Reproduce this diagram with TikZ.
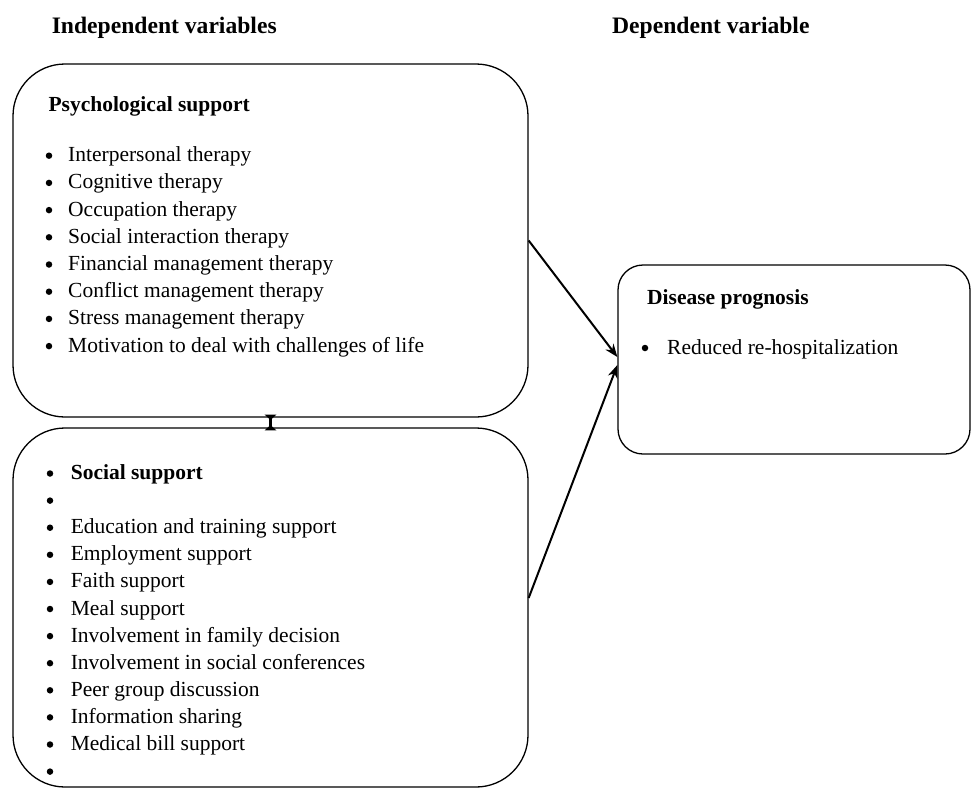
\documentclass[tikz,border=0pt]{standalone}
\usepackage{fontspec}
\setmainfont{Liberation Serif}
\usetikzlibrary{arrows.meta}
\begin{document}
\begin{tikzpicture}[x=1pt,y=-1pt,
  box/.style={draw, line width=1.3pt, rectangle, inner sep=0pt},
  txt/.style={anchor=base west, inner sep=0pt, font=\fontsize{21.5}{27}\selectfont},
  head/.style={anchor=base west, inner sep=0pt, font=\fontsize{21.5}{27}\selectfont\bfseries},
  title/.style={anchor=base west, inner sep=0pt, font=\fontsize{23.6}{28}\selectfont\bfseries},
  bul/.style={circle, fill, inner sep=0pt, minimum size=6.5pt, yshift=6pt},
  link/.style={line width=2pt, -{Stealth[length=13pt,width=10pt]}}]
\useasboundingbox (0,0) rectangle (971,790);

% titles
\node[title] (tind) at (51.6,33) {Independent variables};
\node[title] (tdep) at (612,33) {Dependent variable};

% boxes
\node[box, minimum width=515pt, minimum height=353pt, rounded corners=52pt] (psych) at (270.5,240.5) {};
\node[box, minimum width=515pt, minimum height=359pt, rounded corners=52pt] (social) at (270.5,607.5) {};
\node[box, minimum width=352pt, minimum height=189pt, rounded corners=25pt] (disease) at (794,359.5) {};

% psychological support
\node[head] (ph) at (48.3,111) {Psychological support};
\foreach \t [count=\i] in {Interpersonal therapy, Cognitive therapy, Occupation therapy,
  Social interaction therapy, Financial management therapy, Conflict management therapy,
  Stress management therapy, Motivation to deal with challenges of life} {
  \node[bul] (pb\i) at (49,{161.7+27.2*(\i-1)}) {};
  \node[txt] (p\i) at (68,{161.7+27.2*(\i-1)}) {\t};
}

% social support
\node[bul] (sb0) at (50,479.5) {};
\node[head] (sh) at (70.6,479.5) {Social support};
\node[bul] (sb1) at (50,506.6) {};
\foreach \t [count=\i] in {Education and training support, Employment support, Faith support,
  Meal support, Involvement in family decision, Involvement in social conferences,
  Peer group discussion, Information sharing, Medical bill support} {
  \node[bul] (sbb\i) at (50,{533.7+27.1*(\i-1)}) {};
  \node[txt] (s\i) at (70.6,{533.7+27.1*(\i-1)}) {\t};
}
\node[bul] (sb2) at (50,777.6) {};

% disease prognosis
\node[head] (dh) at (647,304) {Disease prognosis};
\node[bul] (db1) at (645,354) {};
\node[txt] (d1) at (667,354) {Reduced re-hospitalization};

% connectors
\coordinate (t1) at ([yshift=2.5pt]disease.west);
\coordinate (t2) at ([yshift=-5.5pt]disease.west);
\coordinate (s2) at ([yshift=9.5pt]social.east);
\draw[link] (psych.east) -- (t1);
\draw[link] (s2) -- (t2);
\draw[line width=3pt, {Latex[reversed,length=6pt,width=13pt]}-{Latex[reversed,length=6pt,width=13pt]}] ([yshift=3pt]psych.south) -- ([yshift=-3pt]social.north);
\end{tikzpicture}
\end{document}
